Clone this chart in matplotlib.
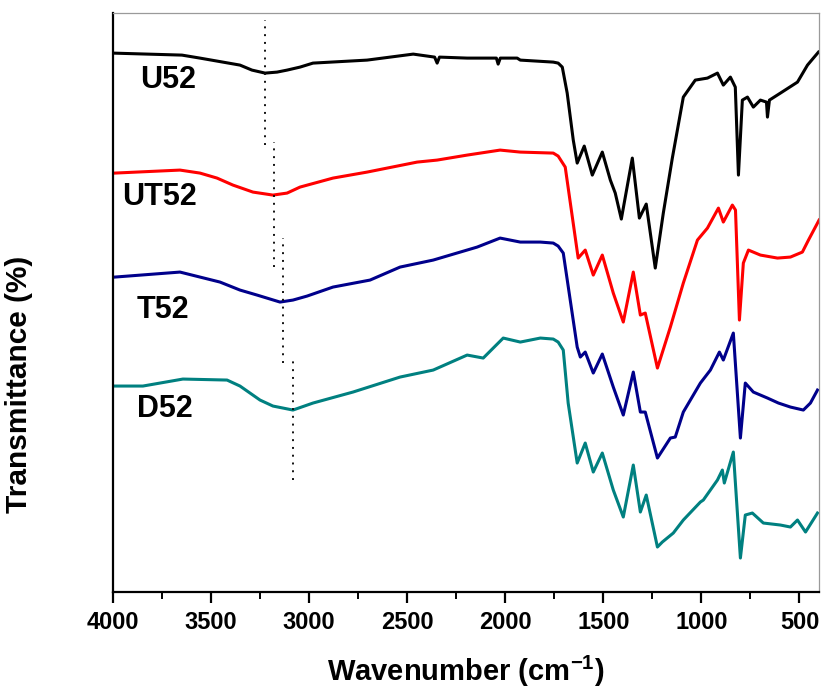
#!/usr/bin/env python3
from __future__ import annotations

import matplotlib

matplotlib.use("Agg")
import matplotlib.pyplot as plt  # noqa: E402
from matplotlib.ticker import MultipleLocator  # noqa: E402

plt.rcParams["font.family"] = ["Liberation Sans", "DejaVu Sans"]
plt.rcParams["font.weight"] = "bold"
plt.rcParams["mathtext.fontset"] = "custom"
plt.rcParams["mathtext.rm"] = "Liberation Sans:bold"
plt.rcParams["mathtext.bf"] = "Liberation Sans:bold"

# FTIR spectra (wavenumber in cm-1, transmittance in arbitrary stacked units)
u52_wn = [4000, 3648, 3556, 3352, 3291, 3224, 3163, 3112, 3046, 2980, 2704, 2469, 2360,
          2347, 2335, 2194, 2045, 2036, 2025, 1939, 1923, 1755, 1730, 1709, 1684, 1653,
          1633, 1597, 1556, 1505, 1464, 1439, 1408, 1352, 1316, 1281, 1235, 1194, 1148,
          1092, 1031, 969, 918, 888, 852, 827, 811, 791, 765, 735, 699, 668, 663, 653,
          597, 510, 459, 429, 403]
u52_t = [539, 537, 534, 527, 522, 519, 520, 522, 525, 529, 532, 538, 535,
         529, 535, 534, 534, 528, 534, 534, 532, 530, 529, 525, 499, 452,
         429, 446, 417, 440, 412, 399, 373, 434, 374, 388, 324, 379, 434,
         495, 512, 514, 519, 507, 515, 505, 417, 492, 495, 485, 492, 490, 475, 492,
         499, 510, 527, 534, 540]

ut52_wn = [3990, 3658, 3556, 3469, 3388, 3286, 3184, 3112, 3046, 2878, 2704, 2449, 2347,
           2194, 2026, 1923, 1755, 1730, 1694, 1628, 1592, 1551, 1505, 1449, 1398, 1347,
           1311, 1286, 1224, 1158, 1092, 1020, 969, 913, 888, 842, 826, 806, 786, 760,
           699, 612, 546, 485, 454, 408, 400]
ut52_t = [419, 422, 419, 414, 407, 400, 397, 399, 405, 414, 420, 430, 432,
          437, 442, 440, 439, 436, 425, 334, 342, 317, 337, 299, 270, 320,
          277, 279, 224, 265, 309, 352, 364, 384, 370, 387, 382, 272, 329, 342,
          337, 334, 335, 340, 352, 369, 372]

t52_wn = [3990, 3658, 3556, 3454, 3352, 3265, 3148, 3082, 3010, 2878, 2689, 2536, 2367,
          2143, 2026, 1923, 1821, 1755, 1730, 1704, 1633, 1617, 1592, 1551, 1505, 1449,
          1398, 1347, 1311, 1286, 1224, 1158, 1133, 1092, 1005, 954, 908, 888, 837, 801,
          776, 735, 663, 607, 546, 480, 444, 408]
t52_t = [315, 320, 315, 310, 302, 297, 290, 292, 296, 305, 312, 325, 332,
         345, 354, 350, 350, 349, 346, 339, 245, 235, 240, 219, 238, 205,
         177, 220, 180, 180, 134, 154, 155, 180, 209, 222, 240, 232, 259, 154,
         209, 200, 194, 189, 185, 182, 189, 202]

d52_wn = [3990, 3847, 3643, 3418, 3352, 3250, 3184, 3082, 2980, 2776, 2536, 2367, 2194,
          2112, 2010, 1923, 1821, 1755, 1730, 1704, 1679, 1633, 1592, 1551, 1505, 1449,
          1398, 1347, 1311, 1281, 1224, 1199, 1143, 1092, 1005, 990, 918, 893, 883, 837,
          801, 776, 740, 684, 597, 546, 510, 469, 408]
d52_t = [206, 206, 213, 212, 206, 192, 186, 182, 189, 200, 215, 222, 237,
         234, 254, 250, 254, 253, 250, 242, 189, 129, 149, 120, 139, 102,
         75, 127, 80, 97, 45, 50, 59, 72, 90, 92, 112, 122, 109, 140,
         34, 77, 79, 69, 67, 65, 72, 60, 79]

sample_names = ["U52", "UT52", "T52", "D52"]
line_colors = ["#000000", "#ff0000", "#00008b", "#008080"]

# O-H / N-H band position marked for each spectrum, and the vertical span of the marker
band_wn = [3225, 3179, 3133, 3082]
band_span = [(447, 572), (325, 450), (229, 354), (112, 235)]

# label anchor (wavenumber, transmittance) for each spectrum
label_pos = [(3862, 512), (3954, 395), (3878, 282), (3878, 183)]


def main() -> None:
    fig = plt.figure(figsize=(8.24, 6.9), dpi=100)
    ax = fig.add_axes([0.137, 0.142, 0.857, 0.839])

    spectra = [(u52_wn, u52_t), (ut52_wn, ut52_t), (t52_wn, t52_t), (d52_wn, d52_t)]
    for (wn, t), color in zip(spectra, line_colors):
        ax.plot(wn, t, color=color, lw=2.2, solid_joinstyle="round")

    for wn, (lo, hi) in zip(band_wn, band_span):
        ax.plot([wn, wn], [lo, hi], color="#111111", lw=1.4, linestyle=(0, (1, 3.0)))

    for name, (x, y) in zip(sample_names, label_pos):
        ax.text(x, y, name, fontsize=22, fontweight="bold", ha="left", va="center")

    ax.set_xlim(4000, 400)
    ax.set_ylim(0, 579)
    ax.xaxis.set_major_locator(MultipleLocator(500))
    ax.xaxis.set_minor_locator(MultipleLocator(250))
    ax.set_yticks([])

    for side in ("left", "bottom"):
        ax.spines[side].set_linewidth(1.6)
        ax.spines[side].set_color("black")
    for side in ("top", "right"):
        ax.spines[side].set_linewidth(0.9)
        ax.spines[side].set_color("#9a9a9a")

    ax.tick_params(axis="x", which="major", direction="out", length=8, width=1.6,
                   labelsize=17, pad=6)
    ax.tick_params(axis="x", which="minor", direction="out", length=5, width=1.4)
    for lbl in ax.get_xticklabels():
        lbl.set_fontweight("bold")

    ax.set_xlabel("Wavenumber (cm$^{-1}$)", fontsize=21, fontweight="bold", labelpad=14)
    ax.set_ylabel("Transmittance (%)", fontsize=21.5, fontweight="bold")
    ax.yaxis.set_label_coords(-0.113, 0.358)

    fig.savefig("out.png", dpi=100)
    plt.close(fig)


if __name__ == "__main__":
    main()
